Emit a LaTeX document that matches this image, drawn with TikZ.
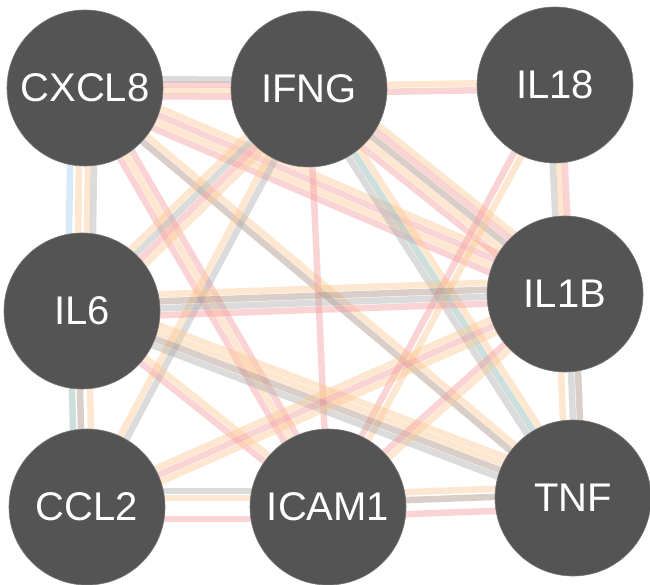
\documentclass[tikz,border=0pt]{standalone}
\usepackage{fontspec}
\setmainfont{Liberation Sans}
\usetikzlibrary{calc}
\pgfdeclarelayer{background}
\pgfsetlayers{background,main}
\definecolor{pk}{HTML}{F49A9A}
\definecolor{pe}{HTML}{FCC88F}
\definecolor{gr}{HTML}{ABABAB}
\definecolor{bl}{HTML}{A4CDEE}
\definecolor{tl}{HTML}{86B4B0}
\definecolor{br}{HTML}{A88C7E}
\definecolor{nodefill}{HTML}{545454}
\tikzset{
  gene/.style={circle, fill=nodefill, draw=nodefill!80!white, line width=0.6pt, minimum size=156pt, inner sep=0pt,
    text=white, font=\fontsize{40}{48}\selectfont},
  ln/.style={line width=6.5pt, draw=#1, draw opacity=0.42}
}
\newcommand\bund[3]{%
  \foreach \o/\c in {#3}{%
    \draw[ln=\c] ($(#1.center)!\o!90:(#2.center)$) -- ($(#2.center)!\o!-90:(#1.center)$);%
  }%
}
\begin{document}
\begin{tikzpicture}[x=1pt,y=-1pt]
\useasboundingbox (0,0) rectangle (650,585);
\node[gene] (cx) at (85,88) {CXCL8};
\node[gene] (if) at (309,89) {IFNG};
\node[gene] (l18) at (555,85) {IL18};
\node[gene] (l6) at (82,311) {IL6};
\node[gene] (l1b) at (565,294) {IL1B};
\node[gene] (cc) at (87,507) {CCL2};
\node[gene] (ic) at (328,507) {ICAM1};
\node[gene] (tn) at (573,498) {TNF};
\begin{pgfonlayer}{background}
\fill[white] (0,0) rectangle (650,585);
\bund{cx}{if}{-8pt/pk,-2pt/pe,4pt/pk,9pt/gr}
\bund{cx}{l6}{-14pt/bl,-5pt/pe,4pt/pe,10pt/gr}
\bund{cx}{l1b}{-10pt/pk,-3pt/pe,4pt/pk,11pt/pe}
\bund{cx}{tn}{-4pt/br,3pt/pe}
\bund{cx}{ic}{-5pt/pk,2pt/pe,9pt/pk}
\bund{if}{l18}{-4pt/pk,3pt/pe}
\bund{if}{l6}{-10pt/pe,-3pt/gr,4pt/pk,11pt/pe}
\bund{if}{cc}{-4pt/pe,3pt/gr}
\bund{if}{ic}{0pt/pk}
\bund{if}{l1b}{-12pt/pk,-5pt/pe,2pt/br,9pt/pk,15pt/pe}
\bund{if}{tn}{-4pt/gr,3pt/tl,10pt/pe}
\bund{l18}{l1b}{-6pt/gr,0pt/pe,6pt/pk}
\bund{l18}{ic}{-4pt/pk,4pt/pe}
\bund{l6}{l1b}{-7pt/pk,0pt/gr,7pt/br,14pt/pe}
\bund{l6}{tn}{-7pt/gr,0pt/br,7pt/pe,14pt/pe}
\bund{l6}{ic}{-4pt/pk,3pt/pe}
\bund{l6}{cc}{-12pt/tl,-4pt/br,6pt/pe}
\bund{cc}{ic}{16pt/gr,9pt/pe,-12pt/pk}
\bund{cc}{l1b}{-7pt/pe,0pt/pk,7pt/pe}
\bund{ic}{l1b}{-4pt/pe,3pt/pk}
\bund{ic}{tn}{12pt/pe,4pt/br,-10pt/pk}
\bund{l1b}{tn}{-7pt/pe,3pt/gr,10pt/br}
\end{pgfonlayer}
\end{tikzpicture}
\end{document}
